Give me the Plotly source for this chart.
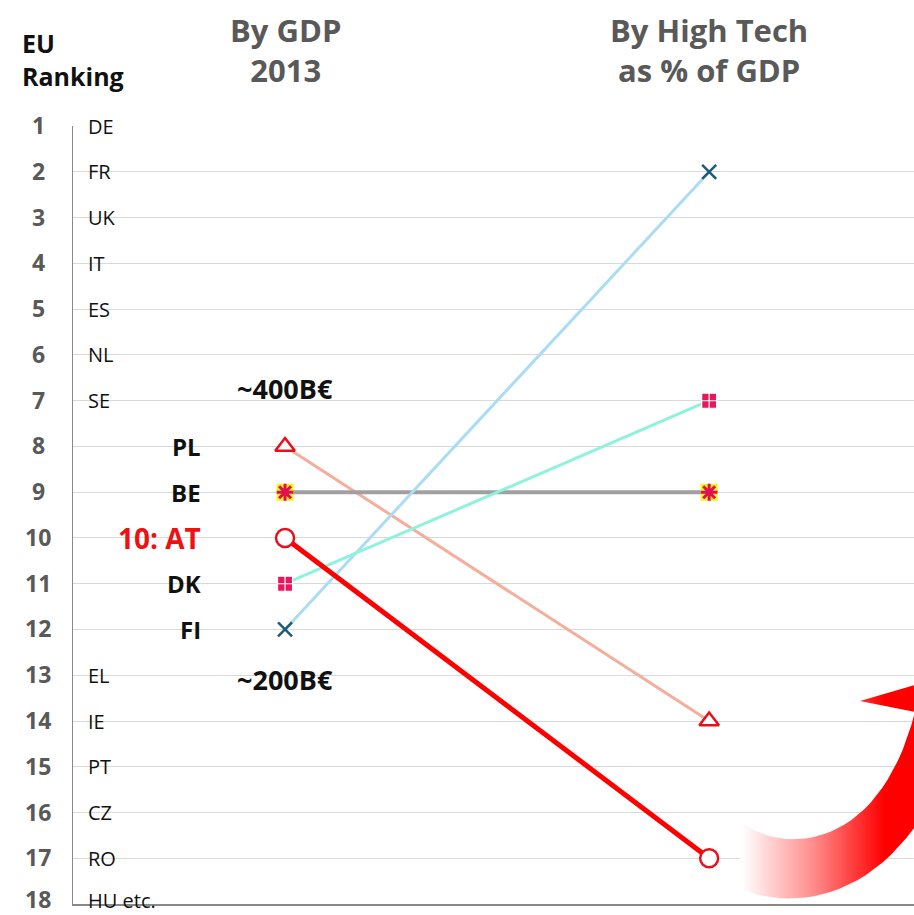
import plotly.graph_objects as go

# ---------------- data ----------------
rank_ticks = list(range(1, 19))
top_countries = ["DE", "FR", "UK", "IT", "ES", "NL", "SE"]
top_ranks = [1, 2, 3, 4, 5, 6, 7]
bottom_countries = ["EL", "IE", "PT", "CZ", "RO", "HU etc."]
bottom_ranks = [13, 14, 15, 16, 17, 18]

focus_labels = ["PL", "BE", "10: AT", "DK", "FI"]
gdp_rank = [8, 9, 10, 11, 12]
hightech_rank = [14, 9, 17, 7, 2]
columns = ["By GDP<br>2013", "By High Tech<br>as % of GDP"]

# ---------------- layout helpers ----------------
W, H = 914, 915
L, R, T, B = 73, 914, 126, 904
def px(x):
    return (x - L) / (R - L)
def py(y):
    return (B - y) / (B - T)

def bez(p0, p1, p2, p3, n=30):
    pts = []
    for k in range(n + 1):
        t = k / n
        a, b, c, d = (1 - t) ** 3, 3 * (1 - t) ** 2 * t, 3 * (1 - t) * t ** 2, t ** 3
        pts.append((a * p0[0] + b * p1[0] + c * p2[0] + d * p3[0],
                    a * p0[1] + b * p1[1] + c * p2[1] + d * p3[1]))
    return pts

# decorative curved arrow outline (pixel space)
inner = bez((743, 823), (785, 855), (880, 850), (915, 712))
outer = bez((737, 887), (800, 918), (920, 895), (962, 715))
head = [(860, 701), (960, 672), (980, 720)]
poly = inner + head + outer[::-1] + [inner[0]]
arrow_x = [p[0] for p in poly]
arrow_y = [p[1] for p in poly]

FONT = "'Open Sans', Lato, sans-serif"

styles = {
    "PL": dict(line=dict(color="#f5ad9c", width=3),
               marker=dict(symbol="triangle-up", size=17, color="white",
                           line=dict(color="#e8101a", width=2.5))),
    "BE": dict(line=dict(color="#a0a0a0", width=4),
               marker=dict(symbol="square", size=17, color="#f5f020",
                           line=dict(color="#f5f020", width=0))),
    "10: AT": dict(line=dict(color="#ff0000", width=5),
                   marker=dict(symbol="circle", size=18, color="white",
                               line=dict(color="#e8101a", width=2.5))),
    "DK": dict(line=dict(color="#8ef2dc", width=3),
               marker=dict(symbol="square-cross", size=15, color="#e8175d",
                           line=dict(color="white", width=1.2))),
    "FI": dict(line=dict(color="#acdcf4", width=3),
               marker=dict(symbol="x-thin-open", size=14, color="#1d5b79",
                           line=dict(color="#1d5b79", width=2.5))),
}

fig = go.Figure()

fig.add_trace(go.Scatter(
    x=arrow_x, y=arrow_y, xaxis="x2", yaxis="y2", mode="lines",
    line=dict(width=0, color="rgba(0,0,0,0)"), fill="toself",
    fillgradient=dict(type="horizontal", start=742, stop=900,
                      colorscale=[[0, "rgba(255,255,255,1)"], [0.45, "rgb(255,140,140)"],
                                  [0.9, "rgb(255,0,0)"], [1, "rgb(255,0,0)"]]),
    hoverinfo="skip", showlegend=False))

order = ["PL", "BE", "FI", "DK", "10: AT"]
for name in order:
    i = focus_labels.index(name)
    fig.add_trace(go.Scatter(x=[1, 2], y=[gdp_rank[i], hightech_rank[i]], mode="lines",
                             line=styles[name]["line"], showlegend=False, hoverinfo="skip"))
for name in order:
    i = focus_labels.index(name)
    fig.add_trace(go.Scatter(x=[1, 2], y=[gdp_rank[i], hightech_rank[i]], mode="markers",
                             marker=styles[name]["marker"], showlegend=False))
    if name == "BE":
        fig.add_trace(go.Scatter(x=[1, 2], y=[gdp_rank[i], hightech_rank[i]], mode="markers",
                                 marker=dict(symbol="asterisk-open", size=14, color="#e01050",
                                             line=dict(color="#e01050", width=3)),
                                 showlegend=False))

ann = []
for r in rank_ticks:
    ann.append(dict(x=px(38), xref="paper", y=r, yref="y", text=str(r), showarrow=False,
                    xanchor="center", yanchor="middle", yshift=1 if r < 18 else 5,
                    font=dict(family=FONT, size=23, color="#595959", weight="bold")))
for c, r in zip(top_countries + bottom_countries, top_ranks + bottom_ranks):
    ann.append(dict(x=px(86), xref="paper", y=r, yref="y", text=c, showarrow=False,
                    xanchor="left", yanchor="middle", yshift=0 if r < 18 else 4,
                    font=dict(family=FONT, size=20, color="#111111")))
for lab, r in zip(focus_labels, gdp_rank):
    is_at = "AT" in lab
    ann.append(dict(x=px(203), xref="paper", y=r, yref="y", text=lab, showarrow=False,
                    xanchor="right", yanchor="middle",
                    font=dict(family=FONT, size=28 if is_at else 24,
                              color="#ee1111" if is_at else "#111111", weight="bold")))
ann.append(dict(x=1, xref="x", y=6.73, yref="y", text="~400B€", showarrow=False,
                xanchor="center", yanchor="middle",
                font=dict(family=FONT, size=27, color="#111111", weight="bold")))
ann.append(dict(x=1, xref="x", y=13.1, yref="y", text="~200B€", showarrow=False,
                xanchor="center", yanchor="middle",
                font=dict(family=FONT, size=27, color="#111111", weight="bold")))
for xc, txt in zip([1, 2], columns):
    ann.append(dict(x=xc, xref="x", y=py(50), yref="paper", text=txt, showarrow=False,
                    xanchor="center", yanchor="middle",
                    font=dict(family=FONT, size=31, color="#595959", weight="bold")))
ann.append(dict(x=px(20), xref="paper", y=py(60), yref="paper", text="EU<br>Ranking",
                showarrow=False, xanchor="left", yanchor="middle", align="left",
                font=dict(family=FONT, size=25, color="#111111", weight="bold")))

fig.update_layout(
    width=W, height=H,
    margin=dict(l=L, r=W - R, t=T, b=H - B, pad=0),
    paper_bgcolor="white", plot_bgcolor="white",
    showlegend=False,
    xaxis=dict(range=[0.5, 2.483], showgrid=False, zeroline=False, showticklabels=False,
               ticks="", showline=True, linecolor="#888888", linewidth=1.5),
    yaxis=dict(range=[18, 0.995], tickvals=rank_ticks, showgrid=True, gridcolor="#d9d9d9",
               gridwidth=1, zeroline=False, showticklabels=False, ticks="",
               showline=True, linecolor="#888888", linewidth=1),
    xaxis2=dict(overlaying="x", range=[L, R], visible=False, anchor="y2"),
    yaxis2=dict(overlaying="y", range=[B, T], visible=False, anchor="x2"),
    annotations=ann,
)

fig.write_html("out.html")
